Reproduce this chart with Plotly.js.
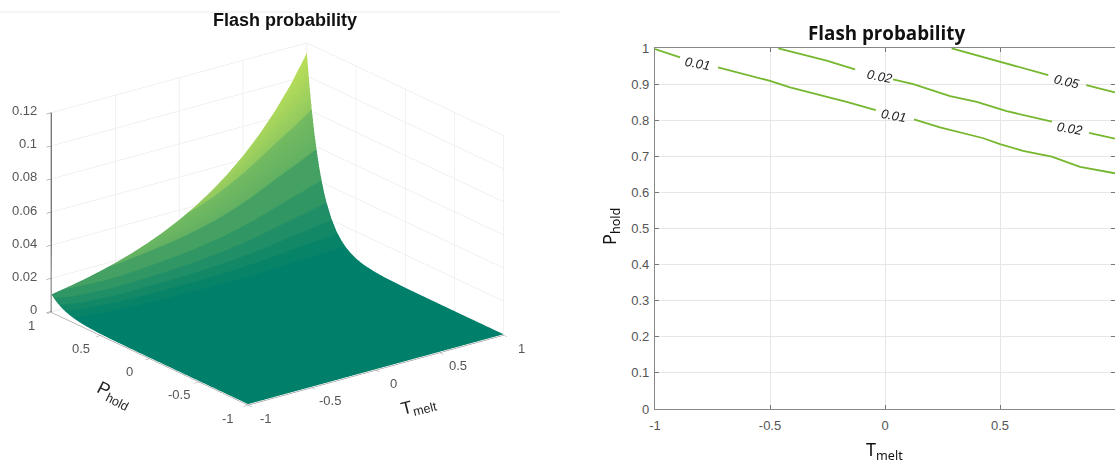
<!DOCTYPE html>
<html>
<head>
<meta charset="utf-8">
<script src="https://cdn.plot.ly/plotly-3.0.1.min.js"></script>
<style>html,body{margin:0;padding:0;background:#fff;overflow:hidden}#c{width:1115px;height:465px}</style>
</head>
<body>
<div id="c"></div>
<script>
var chartTitle = "Flash probability";
var tMelt = [-1, -0.875, -0.75, -0.625, -0.5, -0.375, -0.25, -0.125, 0, 0.125, 0.25, 0.375, 0.5, 0.625, 0.75, 0.875, 1];
var pHold = [-1, -0.5, 0, 0.2, 0.3, 0.4, 0.45, 0.5, 0.55, 0.6, 0.65, 0.7, 0.75, 0.8, 0.825, 0.85, 0.875, 0.9, 0.925, 0.95, 0.975, 1];
var flashProb = [
  [0,0,0,0,0,0,0,0,0,0,0,0,0,0,0,0,0],
  [0,0,0,0,0,0,0,0,0,0,0,0,0,0,0,0,0.00001],
  [0.00001,0.00001,0.00002,0.00002,0.00002,0.00002,0.00003,0.00003,0.00004,0.00004,0.00005,0.00006,0.00007,0.00008,0.00009,0.00011,0.00013],
  [0.00004,0.00005,0.00006,0.00007,0.00008,0.00009,0.00011,0.00013,0.00015,0.00017,0.0002,0.00023,0.00027,0.00031,0.00036,0.00042,0.00049],
  [0.00009,0.0001,0.00012,0.00014,0.00016,0.00019,0.00022,0.00025,0.00029,0.00034,0.0004,0.00046,0.00053,0.00062,0.00072,0.00084,0.00098],
  [0.00017,0.0002,0.00023,0.00027,0.00032,0.00037,0.00043,0.0005,0.00058,0.00067,0.00078,0.00091,0.00105,0.00122,0.00142,0.00165,0.00193],
  [0.00025,0.00028,0.00033,0.00038,0.00045,0.00052,0.0006,0.0007,0.00081,0.00095,0.0011,0.00128,0.00148,0.00172,0.002,0.00233,0.00271],
  [0.00034,0.0004,0.00046,0.00054,0.00063,0.00073,0.00085,0.00098,0.00114,0.00133,0.00154,0.00179,0.00208,0.00242,0.00281,0.00326,0.00381],
  [0.00048,0.00056,0.00065,0.00076,0.00088,0.00102,0.00119,0.00138,0.0016,0.00186,0.00216,0.00252,0.00292,0.00339,0.00394,0.00458,0.00535],
  [0.00068,0.00079,0.00092,0.00106,0.00124,0.00144,0.00167,0.00194,0.00225,0.00262,0.00304,0.00353,0.00411,0.00477,0.00554,0.00644,0.00751],
  [0.00095,0.00111,0.00129,0.0015,0.00174,0.00202,0.00235,0.00273,0.00317,0.00368,0.00427,0.00497,0.00577,0.0067,0.00779,0.00905,0.01056],
  [0.00134,0.00156,0.00181,0.0021,0.00244,0.00283,0.00329,0.00383,0.00445,0.00516,0.006,0.00697,0.0081,0.00941,0.01093,0.0127,0.01482],
  [0.00188,0.00219,0.00254,0.00296,0.00343,0.00399,0.00464,0.00539,0.00626,0.00727,0.00845,0.00981,0.0114,0.01325,0.01539,0.01788,0.02086],
  [0.00265,0.00308,0.00357,0.00415,0.00482,0.0056,0.00651,0.00756,0.00879,0.01021,0.01186,0.01378,0.01601,0.0186,0.02161,0.02511,0.0293],
  [0.00313,0.00364,0.00423,0.00491,0.00571,0.00663,0.0077,0.00895,0.0104,0.01208,0.01403,0.0163,0.01894,0.022,0.02557,0.0297,0.03466],
  [0.00372,0.00432,0.00502,0.00583,0.00678,0.00787,0.00914,0.01062,0.01235,0.01434,0.01666,0.01936,0.02249,0.02613,0.03036,0.03527,0.04115],
  [0.0044,0.00511,0.00594,0.0069,0.00801,0.00931,0.01082,0.01257,0.0146,0.01696,0.01971,0.0229,0.0266,0.03091,0.03591,0.04172,0.04868],
  [0.00522,0.00607,0.00705,0.00819,0.00952,0.01105,0.01284,0.01492,0.01734,0.02014,0.0234,0.02719,0.03159,0.0367,0.04264,0.04953,0.0578],
  [0.00618,0.00718,0.00834,0.00969,0.01126,0.01308,0.0152,0.01766,0.02052,0.02384,0.0277,0.03218,0.03738,0.04343,0.05046,0.05862,0.0684],
  [0.00733,0.00852,0.0099,0.0115,0.01336,0.01552,0.01803,0.02095,0.02435,0.02829,0.03287,0.03818,0.04436,0.05153,0.05988,0.06956,0.08117],
  [0.00869,0.0101,0.01173,0.01363,0.01584,0.0184,0.02138,0.02484,0.02886,0.03353,0.03896,0.04526,0.05258,0.06109,0.07098,0.08246,0.0962],
  [0.0103,0.01197,0.0139,0.01615,0.01877,0.0218,0.02533,0.02943,0.0342,0.03973,0.04616,0.05363,0.0623,0.07238,0.0841,0.0977,0.114]
];
var shadeWeight = [3.3, 3.6, 3.56, 3.47, 3.25, 3.0, 2.76, 2.53, 2.32, 2.1, 1.9, 1.7, 1.52, 1.35, 1.21, 1.1, 1];
var shade = flashProb.map(function (row) {
  return row.map(function (v, j) { return v * shadeWeight[j]; });
});
var bandScale = [
  [0, "#00806a"], [0.067, "#00806a"], [0.067, "#078368"], [0.113, "#078368"],
  [0.113, "#128867"], [0.167, "#128867"], [0.167, "#208e66"], [0.242, "#208e66"],
  [0.242, "#309664"], [0.347, "#309664"], [0.347, "#45a163"], [0.489, "#45a163"],
  [0.489, "#62b162"], [0.679, "#74bb61"], [0.679, "#92ca5f"], [1, "#c4e458"]
];

var t01T = [-1, -0.891, null, -0.726, -0.5, -0.413, -0.167, -0.04, null, 0.126, 0.239, 0.428, 0.5, 0.6, 0.725, 0.848, 1];
var t01P = [0.997, 0.974, null, 0.946, 0.909, 0.891, 0.851, 0.828, null, 0.802, 0.78, 0.75, 0.734, 0.715, 0.699, 0.671, 0.653];
var t02T = [-0.464, -0.254, -0.13, null, 0.035, 0.123, 0.283, 0.399, 0.529, 0.726, null, 0.887, 1];
var t02P = [0.999, 0.965, 0.941, null, 0.913, 0.9, 0.867, 0.851, 0.825, 0.796, null, 0.765, 0.749];
var t05T = [0.29, 0.514, 0.71, null, 0.875, 1];
var t05P = [0.999, 0.959, 0.925, null, 0.897, 0.877];
var labelText = ["0.01", "0.01", "0.02", "0.02", "0.05"];
var labelT = [-0.817, 0.035, -0.02, 0.804, 0.79];
var labelP = [0.958, 0.8125, 0.922, 0.778, 0.908];
var labelAngle = [10, 10, 11, 10, 13];

var tickVals = [-1, -0.5, 0, 0.5, 1];
var zTicks = [0, 0.02, 0.04, 0.06, 0.08, 0.1, 0.12];
var pTicks = [0, 0.1, 0.2, 0.3, 0.4, 0.5, 0.6, 0.7, 0.8, 0.9, 1];

var lineColor = "#75b72e";
var tickFont = {family: "Liberation Sans, Arial, sans-serif", size: 13, color: "#555555"};

function axis3d(vals, range, width) {
  return {
    title: {text: ""}, range: range, tickvals: vals, ticktext: vals.map(String), showticklabels: false,
    showbackground: false, showspikes: false, showgrid: true, gridcolor: "#e4e4e4", gridwidth: 1,
    showline: true, linecolor: "#777777", linewidth: width, ticks: "outside", ticklen: 6, tickcolor: "#777777",
    zeroline: false
  };
}
function contourLine(xs, ys) {
  return {type: "scatter", mode: "lines", x: xs, y: ys, xaxis: "x", yaxis: "y",
          line: {color: lineColor, width: 1.8}, connectgaps: false, hoverinfo: "skip", showlegend: false};
}
function sceneTick(x, y, z, text, dx, dy, anchor) {
  return {x: x, y: y, z: z, text: text, showarrow: false, xanchor: anchor, yanchor: "middle",
          xshift: dx, yshift: dy, font: tickFont};
}

var sceneTicks = [];
tickVals.forEach(function (v) { sceneTicks.push(sceneTick(v, -1, 0, String(v), 18, -14, "center")); });
tickVals.forEach(function (v) { sceneTicks.push(sceneTick(-1, v, 0, String(v), -20, -14, "center")); });
zTicks.forEach(function (v) { sceneTicks.push(sceneTick(-1, 1, v, String(v), -12, 2, "right")); });

var traces = [
  {type: "surface", x: tMelt, y: pHold, z: flashProb, surfacecolor: shade, colorscale: bandScale, cmin: 0, cmax: 0.12,
   showscale: false, hoverinfo: "skip",
   lighting: {ambient: 1, diffuse: 0, specular: 0, roughness: 1, fresnel: 0},
   scene: "scene"},
  contourLine(t01T, t01P), contourLine(t02T, t02P), contourLine(t05T, t05P)
];

var annotations = labelText.map(function (s, i) {
  return {text: "<i>" + s + "</i>", x: labelT[i], y: labelP[i], xref: "x", yref: "y", showarrow: false,
          textangle: labelAngle[i], font: {family: "Liberation Sans, Arial, sans-serif", size: 13, color: "#222222"}};
});
function paperText(text, px, py, font, angle) {
  annotations.push({text: text, x: px / 1115, y: 1 - py / 465, xref: "paper", yref: "paper", showarrow: false,
                    xanchor: "center", yanchor: "middle", textangle: angle || 0, font: font});
}
var boldLeft = {family: "Liberation Sans, Arial, sans-serif", size: 18, color: "#111111", weight: 700};
var boldRight = {family: "Open Sans, Noto Sans, sans-serif", size: 18.8, color: "#111111", weight: 700};
var axT = {family: "Noto Sans, sans-serif", size: 18, color: "#111111"};
var axL = {family: "Liberation Sans, Arial, sans-serif", size: 18, color: "#222222"};
paperText(chartTitle, 886, 33, boldRight);
paperText("T<sub>melt</sub>", 884, 450, axT);
paperText("P<sub>hold</sub>", 610, 227, axT, -90);
paperText("T<sub>melt</sub>", 418, 406, axL, -14);
paperText("P<sub>hold</sub>", 113.5, 395, axL, 27);

var layout = {
  width: 1115, height: 465, margin: {l: 0, r: 0, t: 0, b: 0}, paper_bgcolor: "#ffffff", plot_bgcolor: "#ffffff",
  showlegend: false,
  title: {text: chartTitle, x: 285 / 1115, xanchor: "center", y: 1 - 20 / 465, yanchor: "middle", font: boldLeft},
  scene: {
    domain: {x: [0, 555 / 1115], y: [17 / 465, 1]},
    bgcolor: "rgba(0,0,0,0)",
    xaxis: axis3d(tickVals, [-1, 1], 1),
    yaxis: axis3d(tickVals, [-1, 1], 1),
    zaxis: axis3d(zTicks, [-0.0006, 0.12], 3),
    aspectmode: "manual", aspectratio: {x: 1.434, y: 1.45, z: 0.955},
    camera: {projection: {type: "orthographic"}, up: {x: 0, y: 0, z: 1}, center: {x: 0, y: 0, z: 0},
             eye: {x: -1.414, y: -1.857, z: 0.898}},
    annotations: sceneTicks
  },
  xaxis: {domain: [655 / 1115, 1], range: [-1, 1], tickvals: tickVals, ticktext: tickVals.map(String), anchor: "y",
          showgrid: true, gridcolor: "#e6e6e6", zeroline: false, showline: true, linecolor: "#888888", linewidth: 1.2,
          mirror: "ticks", ticks: "inside", ticklen: 4, tickcolor: "#777777", tickfont: tickFont, ticklabelstandoff: 4},
  yaxis: {domain: [1 - 409 / 465, 1 - 48 / 465], range: [0, 1], tickvals: pTicks, ticktext: pTicks.map(String), anchor: "x",
          showgrid: true, gridcolor: "#e6e6e6", zeroline: false, showline: true, linecolor: "#888888", linewidth: 1.2,
          mirror: "ticks", ticks: "inside", ticklen: 4, tickcolor: "#777777", tickfont: tickFont, ticklabelstandoff: 2},
  annotations: annotations,
  shapes: [{type: "line", xref: "paper", yref: "paper", x0: 0, x1: 560 / 1115, y0: 1 - 12 / 465, y1: 1 - 12 / 465,
            line: {color: "#ececec", width: 1}}]
};
Plotly.newPlot("c", traces, layout, {displayModeBar: false});
</script>
</body>
</html>
